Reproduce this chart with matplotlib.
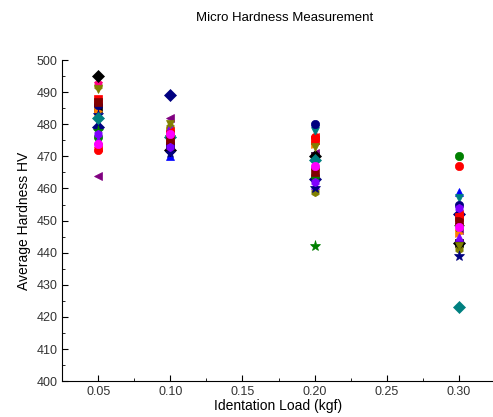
import matplotlib
matplotlib.use("Agg")
import matplotlib.pyplot as plt
from matplotlib.ticker import MultipleLocator

plt.rcParams.update({
    "font.family": ["Liberation Sans", "DejaVu Sans"],
    "xtick.direction": "in",
    "ytick.direction": "in",
})

loads = [0.05, 0.10, 0.20, 0.30]

# one series per sample: marker, colour, hardness at each load
markers = ["s", "o", "^", "v", "D", "<", ">", "o", "*", "h",
           "p", "D", "s", "^", "*", "D", "o", "v", "s", "<", "h", "o"]
colors = ["#000000", "#FF0000", "#0000FF", "#008080", "#000080", "#800080",
          "#FF8000", "#008000", "#008000", "#808000", "#FF0080", "#000000",
          "#FF0000", "#8000FF", "#000080", "#008080", "#000080", "#808000",
          "#800000", "#FF0000", "#8000FF", "#FF00FF"]
hardness = [
    [485, 473, 470, 443],
    [472, 475, 476, 467],
    [480, 470, 468, 459],
    [481, 477, 478, 457],
    [479, 489, 463, 452],
    [464, 482, 471, 447],
    [484, 478, 474, 446],
    [476, 474, 464, 470],
    [478, 476, 442, 448],
    [492, 479, 459, 441],
    [493, 476, 466, 449],
    [495, 472, 470, 443],
    [488, 477, 475, 451],
    [475, 479, 461, 445],
    [483, 471, 460, 439],
    [482, 476, 469, 423],
    [486, 474, 480, 455],
    [491, 480, 473, 442],
    [487, 475, 465, 450],
    [473, 478, 476, 452],
    [477, 473, 462, 454],
    [474, 477, 467, 448],
]

fig = plt.figure(figsize=(4.93, 4.17), dpi=100)
ax = fig.add_axes([0.126, 0.086, 0.878, 0.770])

for m, c, vals in zip(markers, colors, hardness):
    ms = 8 if m == "*" else 6
    ax.plot(loads, vals, linestyle="none", marker=m, color=c,
            markersize=ms, markeredgewidth=0.5)

ax.set_xlim(0.025, 0.325)
ax.set_ylim(400, 500)
ax.xaxis.set_major_locator(MultipleLocator(0.05))
ax.xaxis.set_minor_locator(MultipleLocator(0.025))
ax.yaxis.set_major_locator(MultipleLocator(10))
ax.yaxis.set_minor_locator(MultipleLocator(5))
ax.set_xticks([0.05, 0.10, 0.15, 0.20, 0.25, 0.30])
ax.set_xticklabels(["0.05", "0.10", "0.15", "0.20", "0.25", "0.30"])
ax.tick_params(which="major", length=4, labelsize=9, labelcolor="#333333")
ax.tick_params(which="minor", length=2)
ax.spines["top"].set_visible(False)
ax.spines["right"].set_visible(False)

ax.set_xlabel("Identation Load (kgf)", fontsize=10, labelpad=1)
ax.set_ylabel("Average Hardness HV", fontsize=10, labelpad=4)
fig.text(0.578, 0.957, "Micro Hardness Measurement", ha="center",
         va="center", fontsize=9.5)

fig.savefig("out.png", dpi=100)
